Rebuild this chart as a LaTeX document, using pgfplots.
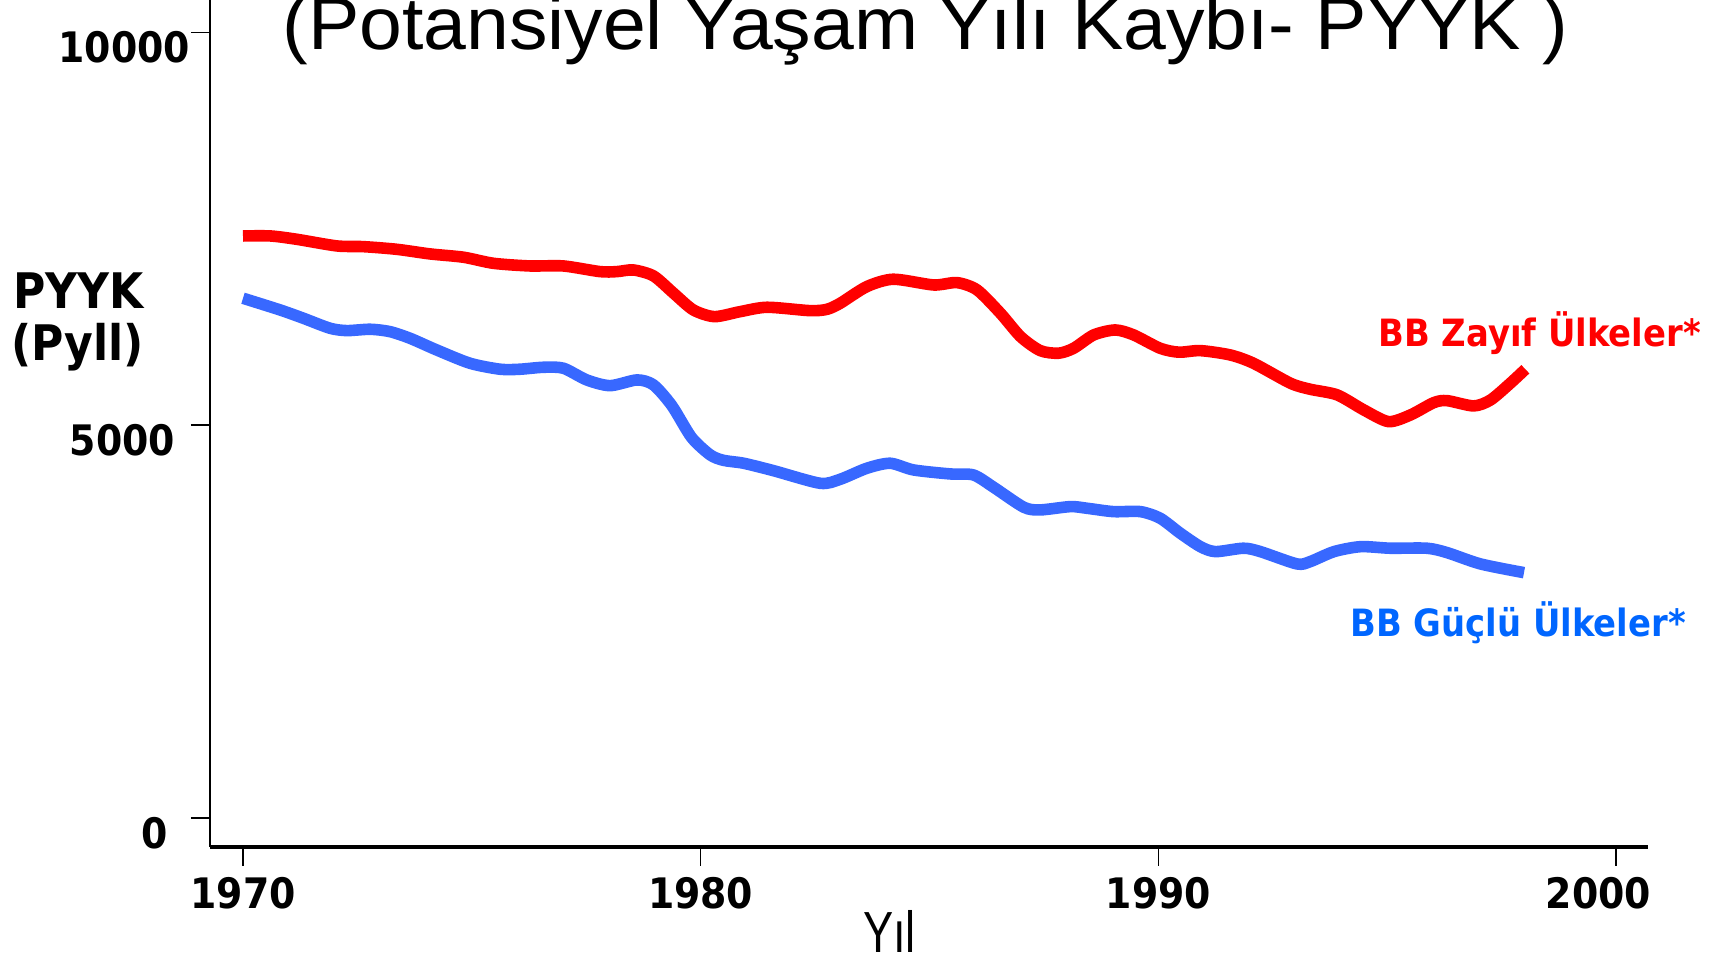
\documentclass[border=0pt]{standalone}
\usepackage{pgfplots}
\pgfplotsset{compat=1.18}
\usepackage{fontspec}
\usepackage{graphicx}
\setmainfont{Liberation Sans}
\newfontfamily\tah[FakeStretch=0.9]{DejaVu Sans}
\definecolor{pred}{RGB}{255,0,0}
\definecolor{pblue}{RGB}{56,104,255}
\definecolor{lblue}{RGB}{0,102,255}

\pgfplotstableread{
year val
1970.00 7410
1970.60 7410
1971.17 7368
1972.05 7283
1972.63 7274
1973.36 7240
1974.09 7181
1974.82 7139
1975.47 7062
1976.27 7028
1977.00 7028
1977.80 6956
1978.17 6956
1978.53 6977
1978.97 6901
1979.41 6680
1979.84 6468
1980.30 6383
1980.86 6446
1981.45 6502
1982.39 6459
1982.76 6476
1983.05 6553
1983.63 6765
1984.21 6859
1985.09 6786
1985.60 6816
1986.04 6723
1986.55 6426
1986.99 6128
1987.42 5950
1987.82 5917
1988.15 5980
1988.59 6150
1989.06 6213
1989.46 6150
1990.04 5980
1990.45 5930
1990.92 5950
1991.57 5895
1992.08 5789
1992.89 5534
1993.32 5458
1993.91 5386
1994.49 5195
1995.03 5046
1995.51 5131
1996.02 5288
1996.31 5313
1996.89 5246
1997.26 5322
1997.69 5534
1998.02 5713
}\weak

\pgfplotstableread{
year val
1970.00 6617
1970.81 6468
1971.32 6362
1971.90 6235
1972.27 6205
1972.78 6222
1973.21 6192
1973.65 6107
1974.23 5959
1974.96 5789
1975.62 5713
1976.05 5713
1976.56 5738
1977.00 5726
1977.51 5577
1978.02 5504
1978.61 5577
1978.97 5513
1979.37 5250
1979.80 4845
1980.21 4622
1980.50 4553
1980.94 4516
1981.59 4422
1982.61 4261
1983.05 4312
1983.63 4452
1984.14 4516
1984.65 4431
1985.45 4380
1985.96 4367
1986.40 4211
1987.06 3956
1987.42 3922
1988.08 3964
1988.44 3943
1989.02 3900
1989.61 3900
1990.04 3816
1990.48 3625
1990.92 3454
1991.25 3391
1991.86 3434
1992.23 3391
1993.03 3234
1993.32 3264
1993.84 3391
1994.42 3454
1995.07 3434
1995.87 3434
1996.31 3378
1997.04 3234
1997.99 3123
}\strong

\begin{document}
\begin{tikzpicture}
\begin{axis}[
  at={(104.75bp,55.5bp)}, anchor=south west,
  scale only axis, width=719.25bp, height=426.86bp,
  xmin=1969.268, xmax=2000.70, ymin=-370, ymax=10500,
  axis lines*=left,
  x axis line style={-, black, line width=1.6bp},
  y axis line style={-, black, line width=1bp},
  xtick={1970,1980,1990,2000}, xticklabels={1970,1980,1990,2000\hspace*{17.4bp}},
  ytick={0,5000,10000}, yticklabels={0\hspace*{11.3bp},5000\hspace*{7.6bp},10000},
  tick align=outside, major tick length=9.3bp,
  tick style={black, line width=0.8bp},
  /pgf/number format/assume math mode=true,
  ticklabel style={font=\tah\bfseries\fontsize{21bp}{21bp}\selectfont},
  xticklabel style={anchor=center, inner sep=0pt, yshift=-13.6bp},
  yticklabel style={anchor=east, inner sep=0pt, xshift=-0.2bp, yshift=-7.5bp},
  clip=false,
]
\addplot[pred, line width=5.8bp, smooth, tension=0.45, line join=round] table[x=year, y=val] {\weak};
\addplot[pblue, line width=5.8bp, smooth, tension=0.45, line join=round] table[x=year, y=val] {\strong};
\end{axis}

\node[anchor=base, inner sep=0pt, font=\fontsize{37bp}{37bp}\selectfont] at (462.7bp,454.25bp) {\scalebox{1.04}[1]{(Potansiyel Yaşam Yılı Kaybı- PYYK )}};
\node[anchor=base west, inner sep=0pt, font=\tah\bfseries\fontsize{24.5bp}{24.5bp}\selectfont] at (6.5bp,324.5bp) {PYYK};
\node[anchor=base west, inner sep=0pt, font=\tah\bfseries\fontsize{24.5bp}{24.5bp}\selectfont] at (5.5bp,298.5bp) {(Pyll)};
\node[anchor=base west, inner sep=0pt, text=pred, font=\tah\bfseries\fontsize{18.8bp}{18.8bp}\selectfont] at (689bp,305.5bp) {BB Zayıf Ülkeler*};
\node[anchor=base west, inner sep=0pt, text=lblue, font=\tah\bfseries\fontsize{18.8bp}{18.8bp}\selectfont] at (675bp,160.5bp) {BB Güçlü Ülkeler*};
\node[anchor=base, inner sep=0pt, font=\fontsize{29bp}{29bp}\selectfont] at (444.7bp,2.7bp) {\scalebox{0.78}[1]{Yıl}};

\pgfresetboundingbox
\path[use as bounding box] (0,0) rectangle (855.5bp,479bp);
\end{tikzpicture}
\end{document}
